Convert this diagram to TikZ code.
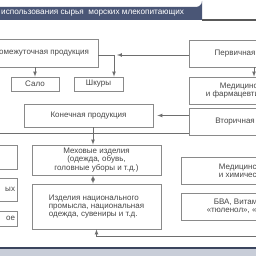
\documentclass[tikz,border=0pt]{standalone}
\usepackage{fontspec}
\setmainfont{Liberation Sans}
\usepackage{tikz}
\definecolor{hdrblue}{RGB}{74,86,118}
\definecolor{ftrblue}{RGB}{200,205,216}
\definecolor{boxgray}{RGB}{138,138,138}

\begin{document}
\begin{tikzpicture}[x=1pt, y=-1pt, >=latex,
  font=\fontsize{8}{8.4}\selectfont, text=black!72,
  box/.style={draw=boxgray, fill=white, line width=0.8pt, align=center, inner sep=2pt},
  conn/.style={draw=boxgray!80!black, line width=0.7pt}]
\clip (0,0) rectangle (256,256);
\fill[white] (0,0) rectangle (256,256);
% header and footer
\fill[hdrblue] (-5,20) |- (196,7) arc[start angle=90, end angle=0, radius=6] |- cycle;
\draw[black!65, line width=1.2pt] (202,20) -- (258,20);
\node[anchor=west, text=white, inner sep=0pt, font=\fontsize{8.2}{9}\selectfont] (ttl) at (1,13.5) {использования сырья \ морских млекопитающих};
\fill[ftrblue] (-5,248) rectangle (260,260);
\draw[hdrblue!80!black, line width=1.6pt] (-5,248) -- (260,248);
% boxes
\node[box, minimum width=118, minimum height=28] (prom) at (39,53) {Промежуточная продукция};
\node[box, minimum width=48, minimum height=14] (salo) at (35,84) {Сало};
\node[box, minimum width=49, minimum height=14] (skin) at (98.5,84) {Шкуры};
\node[box, minimum width=129, minimum height=23] (kon) at (88.5,115.5) {Конечная продукция};
\node[box, minimum width=133, minimum height=27] (prim) at (255.5,53.5) {Первичная продукция};
\node[box, minimum width=112, minimum height=27] (med) at (245,90.5) {Медицинская\\и фармацевтическая};
\node[box, minimum width=133, minimum height=27] (vtor) at (255.5,121.5) {Вторичная продукция};
\node[box, minimum width=129, minimum height=30] (fur) at (96.5,160) {Меховые изделия\\(одежда, обувь,\\головные уборы и т.д.)};
\node[box, minimum width=129, minimum height=45, align=left] (nat) at (96.5,206.5) {Изделия национального\\промысла, национальная\\одежда, сувениры и т.д.};
\node[box, minimum width=47, minimum height=24] (lft1) at (-6.5,157) {};
\node[box, minimum width=47, minimum height=23, text width=43, align=right] (lft2) at (-6.5,189.5) {ых};
\node[box, minimum width=47, minimum height=15, text width=43, align=right] (lft3) at (-6.5,218.5) {ое};
\node[box, minimum width=126, minimum height=27] (chem) at (244,170.5) {Медицинская\\и химическая};
\node[box, minimum width=126, minimum height=27] (bva) at (244,206.5) {БВА, Витамины,\\«тюленол», «кетол»};
% connectors
\coordinate (jn) at (114,55);
\coordinate (bus) at (-5,133);
\coordinate (kd) at (93,133);
\coordinate (br) at (260,236);
\draw[conn, ->] (salo.north |- prom.south) -- (salo.north);
\draw[conn, ->] (prom.east |- jn) -- (jn) -- (jn |- skin.north);
\draw[conn, ->] (prim.west |- jn) -- ([xshift=3pt]jn);
\draw[conn, ->] ([xshift=-1.5pt]prim.south) -- ([xshift=-1.5pt]prim.south |- med.north);
\draw[conn, ->] (vtor.west |- kon.east) -- ([xshift=4pt]kon.east);
\draw[conn] (vtor.west |- bus) -- (bus);
\draw[conn, ->] (kd |- kon.south) -- (kd |- fur.north);
\draw[conn, <->, densely dotted] (kd |- fur.south) -- (kd |- nat.north);
\draw[conn, ->] (br) -| (nat.south);
\end{tikzpicture}
\end{document}
